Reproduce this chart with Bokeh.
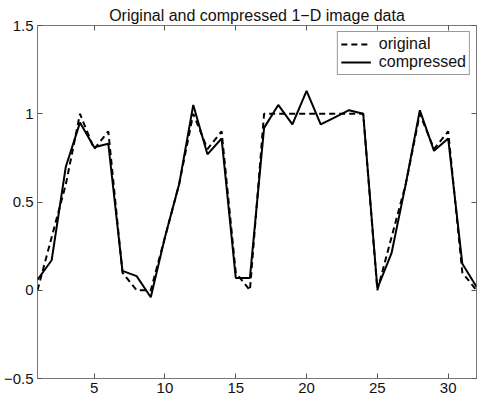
from bokeh.plotting import figure
from bokeh.models import Range1d, LinearAxis, FixedTicker
from bokeh.embed import file_html
from bokeh.resources import INLINE

# ---- data ----
x_vals = list(range(1, 33))
original = [0.0, 0.3, 0.6, 1.0, 0.8, 0.9, 0.1, 0.0, 0.0, 0.3, 0.6, 1.0, 0.8, 0.9, 0.1, 0.0,
            1.0, 1.0, 1.0, 1.0, 1.0, 1.0, 1.0, 1.0, 0.0, 0.3, 0.6, 1.0, 0.8, 0.9, 0.1, 0.0]
compressed = [0.06, 0.17, 0.70, 0.95, 0.81, 0.83, 0.11, 0.08, -0.04, 0.30, 0.60, 1.05, 0.77, 0.86, 0.07, 0.07,
              0.92, 1.05, 0.94, 1.13, 0.94, 0.98, 1.02, 1.00, 0.01, 0.21, 0.60, 1.02, 0.79, 0.86, 0.15, 0.02]
x_ticks = [5, 10, 15, 20, 25, 30]
y_ticks = [-0.5, 0, 0.5, 1, 1.5]
y_tick_labels = {-0.5: "\u22120.5", 0: "0", 0.5: "0.5", 1: "1", 1.5: "1.5"}
title_text = "Original and compressed 1\u2212D image data"

FONT = "Liberation Sans"

p = figure(width=478, height=395, x_range=Range1d(1, 32), y_range=Range1d(-0.5, 1.5),
           output_backend="svg", toolbar_location=None, title=title_text,
           min_border_left=33, min_border_right=2, min_border_top=25, min_border_bottom=0)

p.title.align = "center"
p.title.text_font = FONT
p.title.text_font_size = "16px"
p.title.text_font_style = "normal"
p.title.text_color = "#111111"
p.title.standoff = 4

p.xgrid.visible = False
p.ygrid.visible = False
p.outline_line_color = "#777777"
p.outline_line_width = 1
p.background_fill_color = "white"
p.border_fill_color = "white"

p.xaxis.ticker = FixedTicker(ticks=x_ticks)
p.yaxis.ticker = FixedTicker(ticks=y_ticks)
p.yaxis.major_label_overrides = y_tick_labels

for ax in (p.xaxis[0], p.yaxis[0]):
    ax.axis_line_color = None
    ax.major_tick_in = 5
    ax.major_tick_out = 0
    ax.minor_tick_line_color = None
    ax.major_tick_line_color = "#555555"
    ax.major_label_text_font = FONT
    ax.major_label_text_font_size = "15px"
    ax.major_label_text_color = "#111111"
    ax.major_label_standoff = 4

# mirror ticks on top and right (labels not drawn)
blank_x = {t: "" for t in x_ticks}
blank_y = {t: "" for t in y_ticks}
top_axis = LinearAxis(ticker=FixedTicker(ticks=x_ticks), axis_line_color=None,
                      major_tick_in=5, major_tick_out=0, minor_tick_line_color=None,
                      major_tick_line_color="#555555", major_label_text_color=None,
                      major_label_overrides=blank_x, major_label_text_font_size="1px",
                      major_label_standoff=0)
right_axis = LinearAxis(ticker=FixedTicker(ticks=y_ticks), axis_line_color=None,
                        major_tick_in=5, major_tick_out=0, minor_tick_line_color=None,
                        major_tick_line_color="#555555", major_label_text_color=None,
                        major_label_overrides=blank_y, major_label_text_font_size="1px",
                        major_label_standoff=0)
p.add_layout(top_axis, "above")
p.add_layout(right_axis, "right")

p.line(x_vals, original, line_color="black", line_width=2, line_dash="6 4",
       legend_label="original")
p.line(x_vals, compressed, line_color="black", line_width=2, legend_label="compressed")

lg = p.legend[0]
lg.location = "top_right"
lg.margin = 6
lg.padding = 3
lg.spacing = 0
lg.border_line_color = "#333333"
lg.border_line_width = 1
lg.background_fill_color = "white"
lg.background_fill_alpha = 1
lg.label_text_font = FONT
lg.label_text_font_size = "16px"
lg.label_text_color = "#111111"
lg.glyph_width = 30
lg.glyph_height = 18
lg.label_height = 18
lg.label_standoff = 8

open("out.html", "w").write(file_html(p, INLINE))
